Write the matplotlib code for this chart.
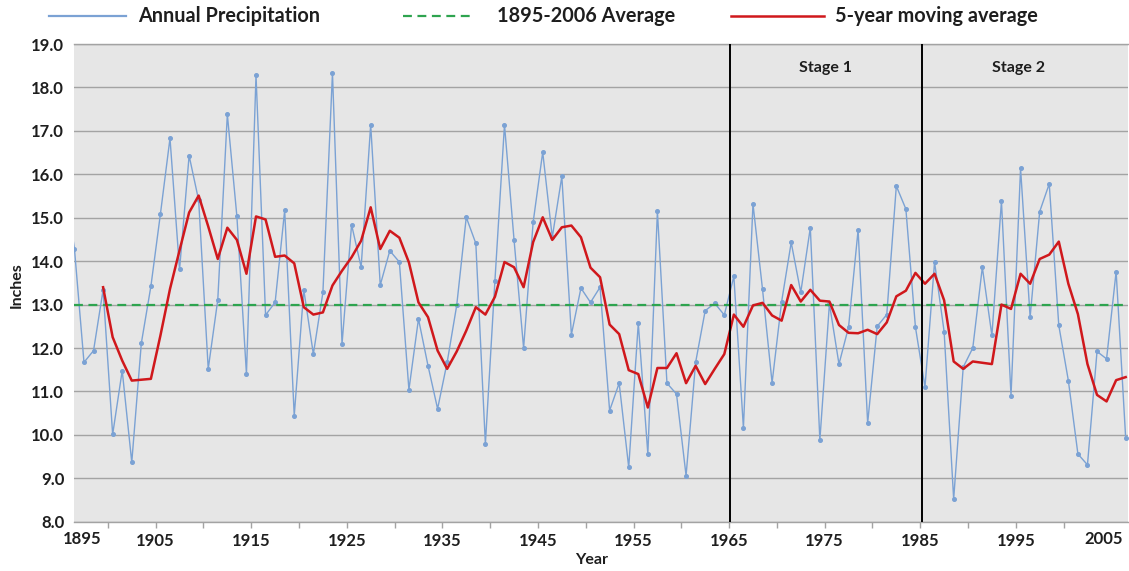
# precipitation_chart.py

import matplotlib

matplotlib.use("Agg")

import matplotlib.pyplot as plt

from matplotlib.lines import Line2D

from matplotlib.ticker import FuncFormatter

import numpy as np


# =========================
# DATA
# =========================

years = list(range(1895, 2007))

# annual precipitation (inches), 1895 .. 2006
annual = [
    15.75, 14.29, 11.67, 11.94, 13.34,                                # 1895-1899
    10.01, 11.48, 9.37, 12.11, 13.42, 15.09, 16.83, 13.81, 16.43, 15.40,  # 1900s
    11.52, 13.11, 17.38, 15.03, 11.40, 18.28, 12.76, 13.05, 15.17, 10.44,  # 1910s
    13.34, 11.86, 13.28, 18.33, 12.09, 14.84, 13.86, 17.14, 13.45, 14.24,  # 1920s
    13.98, 11.04, 12.67, 11.59, 10.60, 11.67, 12.98, 15.01, 14.41, 9.79,   # 1930s
    13.55, 17.14, 14.49, 12.00, 14.90, 16.51, 14.55, 15.95, 12.31, 13.38,  # 1940s
    13.05, 13.40, 10.56, 11.19, 9.25, 12.57, 9.56, 15.15, 11.19, 10.94,    # 1950s
    9.06, 11.67, 12.86, 13.03, 12.76, 13.65, 10.16, 15.32, 13.35, 11.20,   # 1960s
    13.07, 14.43, 13.28, 14.77, 9.88, 13.02, 11.63, 12.48, 14.72, 10.27,   # 1970s
    12.50, 12.77, 15.73, 15.20, 12.48, 11.10, 13.98, 12.38, 8.52, 11.56,   # 1980s
    12.00, 13.86, 12.29, 15.38, 10.90, 16.14, 12.71, 15.14, 15.78, 12.52,  # 1990s
    11.25, 9.56, 9.31, 11.92, 11.75, 13.76, 9.92,                          # 2000s
]

# 5-year moving average as drawn (starts 1899)
moving_avg = [
    np.nan, np.nan, np.nan, np.nan, 13.40,                            # 1895-1899
    12.25, 11.71, 11.25, 11.27, 11.29, 12.29, 13.36, 14.25, 15.12, 15.51,
    14.80, 14.05, 14.77, 14.49, 13.71, 15.03, 14.96, 14.10, 14.13, 13.95,
    12.94, 12.77, 12.82, 13.44, 13.78, 14.09, 14.47, 15.24, 14.28, 14.70,
    14.54, 13.97, 13.05, 12.71, 11.94, 11.52, 11.92, 12.40, 12.94, 12.77,
    13.18, 13.98, 13.86, 13.40, 14.44, 15.01, 14.49, 14.78, 14.82, 14.55,
    13.85, 13.63, 12.54, 12.32, 11.49, 11.40, 10.63, 11.54, 11.54, 11.88,
    11.19, 11.59, 11.17, 11.52, 11.86, 12.77, 12.49, 12.98, 13.04, 12.75,
    12.63, 13.45, 13.07, 13.34, 13.09, 13.07, 12.53, 12.35, 12.34, 12.42,
    12.32, 12.59, 13.19, 13.32, 13.73, 13.48, 13.71, 13.10, 11.69, 11.52,
    11.69, 11.66, 11.63, 13.00, 12.90, 13.71, 13.48, 14.05, 14.15, 14.45,
    13.48, 12.78, 11.63, 10.92, 10.77, 11.26, 11.33,
]

long_term_avg = 13.0

stage_names = ["Stage 1", "Stage 2"]

stage_bounds = [1964.6, 1984.7]

stage_label_x = [1974.6, 1994.8]

tick_labels = [
    "1895", "1905", "1915", "1925", "1935", "1945",
    "1955", "1965", "1975", "1985", "1995", "2005",
]

legend_labels = [
    "Annual Precipitation",
    "1895-2006 Average",
    "5-year moving average",
]


# =========================
# STYLE
# =========================

plt.rcParams["font.family"] = ["Lato", "DejaVu Sans"]

BLUE = "#7ba2d4"
RED = "#d0181c"
GREEN = "#2ea44f"
GRID = "#a3a3a3"
TEXT = "#1e1e1e"

avg_dash = (0, (4, 2.5))


# =========================
# FIGURE
# =========================

fig = plt.figure(
    figsize=(11.29, 5.71),
    dpi=100
)

fig.patch.set_facecolor("white")

ax = fig.add_axes(
    [0.0655, 0.0863, 0.9336, 0.8366]
)

ax.set_facecolor("#e6e6e6")


# =========================
# SERIES
# =========================

ax.plot(
    years,
    annual,
    color=BLUE,
    linewidth=1.0,
    marker="o",
    markersize=2.6,
    zorder=3
)

ax.axhline(
    long_term_avg,
    color=GREEN,
    linewidth=1.6,
    linestyle=avg_dash,
    zorder=4
)

ax.plot(
    years,
    moving_avg,
    color=RED,
    linewidth=1.8,
    zorder=5
)


# =========================
# STAGES
# =========================

for bound in stage_bounds:

    ax.axvline(
        bound,
        color="black",
        linewidth=1.4,
        zorder=6
    )

for name, xpos in zip(stage_names, stage_label_x):

    ax.text(
        xpos,
        18.44,
        name,
        ha="center",
        va="center",
        fontsize=11.5,
        fontweight="bold",
        color=TEXT
    )


# =========================
# AXES
# =========================

ax.set_xlim(1895.95, 2006.24)

ax.set_ylim(8, 19)

ax.set_yticks(np.arange(8, 19.5, 1))

ax.yaxis.set_major_formatter(
    FuncFormatter(lambda v, pos: f"{v:.1f}")
)

ax.grid(
    axis="y",
    color=GRID,
    linewidth=1.0,
    zorder=0
)

ax.set_axisbelow(True)

# tick marks sit between categories, labels every 10 years
major_x = [int(t) - 0.5 for t in tick_labels[1:-1]]

minor_x = [t + 5 for t in major_x] + [int(tick_labels[0]) + 4.5]

ax.set_xticks(major_x, tick_labels[1:-1])

ax.set_xticks(minor_x, minor=True)

ax.tick_params(
    axis="x",
    which="both",
    length=4,
    width=1,
    color=GRID,
    pad=4,
    labelsize=12,
    labelcolor=TEXT
)

ax.tick_params(
    axis="y",
    length=0,
    pad=7,
    labelsize=12,
    labelcolor=TEXT
)

for lbl in ax.get_xticklabels() + ax.get_yticklabels():
    lbl.set_fontweight("bold")

# edge labels pulled inside the chart like the original
edge_x = [1896.8, 2003.7]

for text, xpos in zip([tick_labels[0], tick_labels[-1]], edge_x):

    ax.text(
        xpos,
        -0.036,
        text,
        transform=ax.get_xaxis_transform(),
        ha="center",
        va="center",
        fontsize=12,
        fontweight="bold",
        color=TEXT
    )

for side in ["left", "right"]:
    ax.spines[side].set_visible(False)

for side in ["top", "bottom"]:
    ax.spines[side].set_color(GRID)
    ax.spines[side].set_linewidth(1.0)


# =========================
# LABELS
# =========================

fig.text(
    0.5244, 0.019,
    "Year",
    ha="center", va="center",
    fontsize=11.5, fontweight="bold",
    color=TEXT
)

fig.text(
    0.0148, 0.500,
    "Inches",
    ha="center", va="center",
    rotation=90,
    fontsize=11.5, fontweight="bold",
    color=TEXT
)


# =========================
# LEGEND (manual, top strip)
# =========================

legend_y = 0.972

legend_lines = [
    ([49, 126], BLUE, "-", 1.6),
    ([403, 475], GREEN, avg_dash, 1.6),
    ([731, 824], RED, "-", 1.8),
]

legend_text_x = [138, 497, 835]

for (xs, col, ls, lw), label, tx in zip(
    legend_lines, legend_labels, legend_text_x
):

    fig.add_artist(
        Line2D(
            [xs[0] / 1129, xs[1] / 1129],
            [legend_y, legend_y],
            color=col,
            linestyle=ls,
            linewidth=lw,
            transform=fig.transFigure
        )
    )

    fig.text(
        tx / 1129,
        legend_y,
        label,
        ha="left",
        va="center",
        fontsize=14.3,
        fontweight="bold",
        color=TEXT
    )


# =========================
# SAVE
# =========================

fig.savefig("out.png", dpi=100)

plt.close(fig)
